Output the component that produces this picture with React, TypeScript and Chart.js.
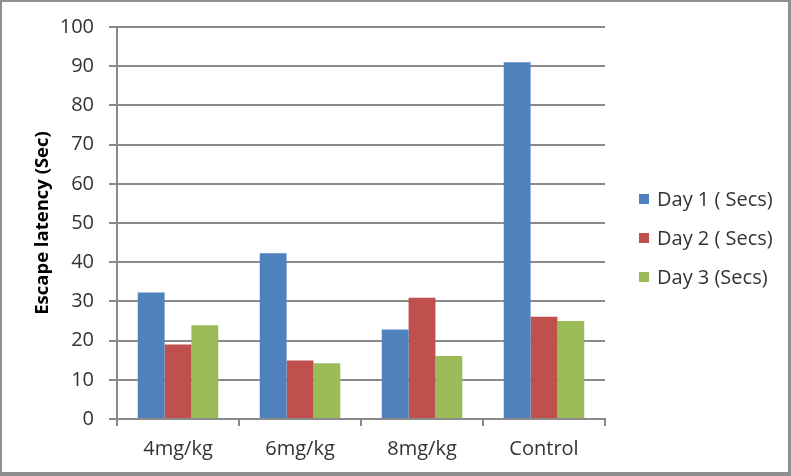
import React, { useEffect, useRef } from "react";
import { Chart, registerables } from "chart.js";

Chart.register(...registerables);

const categories = ["4mg/kg", "6mg/kg", "8mg/kg", "Control"];
const day1 = [32.3, 42.3, 22.8, 91.0];
const day2 = [19.0, 14.9, 30.9, 26.1];
const day3 = [23.9, 14.2, 16.1, 25.0];
const seriesLabels = ["Day 1 ( Secs)", "Day 2 ( Secs)", "Day 3 (Secs)"];
const seriesColors = ["#4F81BD", "#C0504D", "#9BBB59"];
const yTicks = [0, 10, 20, 30, 40, 50, 60, 70, 80, 90, 100];

const FONT = "'Open Sans', 'DejaVu Sans', sans-serif";
const GRID = "#8a8a8a";
const TEXT = "#333";

export default function App() {
  const ref = useRef<HTMLCanvasElement>(null);
  useEffect(() => {
    const canvas = ref.current!;
    const values = [day1, day2, day3];
    const chart = new Chart(canvas, {
      type: "bar",
      data: {
        labels: categories,
        datasets: values.map((v, i) => ({
          label: seriesLabels[i],
          data: v,
          backgroundColor: seriesColors[i],
          borderWidth: 0,
          barPercentage: 1,
          categoryPercentage: 0.66,
        })),
      },
      options: {
        responsive: false,
        animation: false,
        devicePixelRatio: 1,
        layout: { padding: { left: 0, top: 25, right: 186, bottom: 0 } },
        plugins: {
          tooltip: { enabled: false },
          legend: { display: false },
        },
        scales: {
          x: {
            grid: {
              offset: true,
              drawOnChartArea: false,
              drawTicks: true,
              tickLength: 7,
              color: GRID,
              lineWidth: 2,
            },
            border: { display: true, color: GRID, width: 2 },
            ticks: {
              color: TEXT,
              padding: 11,
              font: { family: FONT, size: 20 },
              maxRotation: 0,
            },
            afterFit: (s: any) => {
              s.height = 57;
            },
          },
          y: {
            min: 0,
            max: 100,
            afterBuildTicks: (s: any) => {
              s.ticks = yTicks.map((v) => ({ value: v }));
            },
            grid: { color: GRID, lineWidth: 2, tickLength: 8 },
            border: { display: true, color: GRID, width: 2 },
            ticks: {
              color: TEXT,
              padding: 15,
              font: { family: FONT, size: 20 },
            },
            title: {
              display: true,
              text: "Escape latency (Sec)",
              color: "#000",
              font: { family: FONT, size: 18.5, weight: "bold" },
              padding: { top: 32, bottom: 0 },
            },
            afterFit: (s: any) => {
              s.width = 117;
            },
          },
        },
      },
    });
    return () => chart.destroy();
  }, []);

  const legendCenters = [199, 238, 277];

  return (
    <div style={{ position: "fixed", left: 0, top: 0, width: 791, height: 476, background: "#fff" }}>
      <canvas ref={ref} width={791} height={476} style={{ position: "absolute", left: 0, top: 0, width: 791, height: 476 }} />
      {seriesLabels.map((lab, i) => (
        <React.Fragment key={lab}>
          <div
            style={{
              position: "absolute",
              left: 639,
              top: legendCenters[i] - 5,
              width: 10,
              height: 10,
              background: seriesColors[i],
            }}
          />
          <div
            style={{
              position: "absolute",
              left: 657,
              top: legendCenters[i] - 14,
              height: 28,
              lineHeight: "28px",
              fontFamily: FONT,
              fontSize: 20,
              color: TEXT,
              whiteSpace: "pre",
            }}
          >
            {lab}
          </div>
        </React.Fragment>
      ))}
      <div
        style={{
          position: "absolute",
          left: 0,
          top: 0,
          width: 791,
          height: 476,
          boxSizing: "border-box",
          borderStyle: "solid",
          borderColor: "#8f8f8f",
          borderWidth: "2px 3px 4px 2px",
          pointerEvents: "none",
        }}
      />
    </div>
  );
}
